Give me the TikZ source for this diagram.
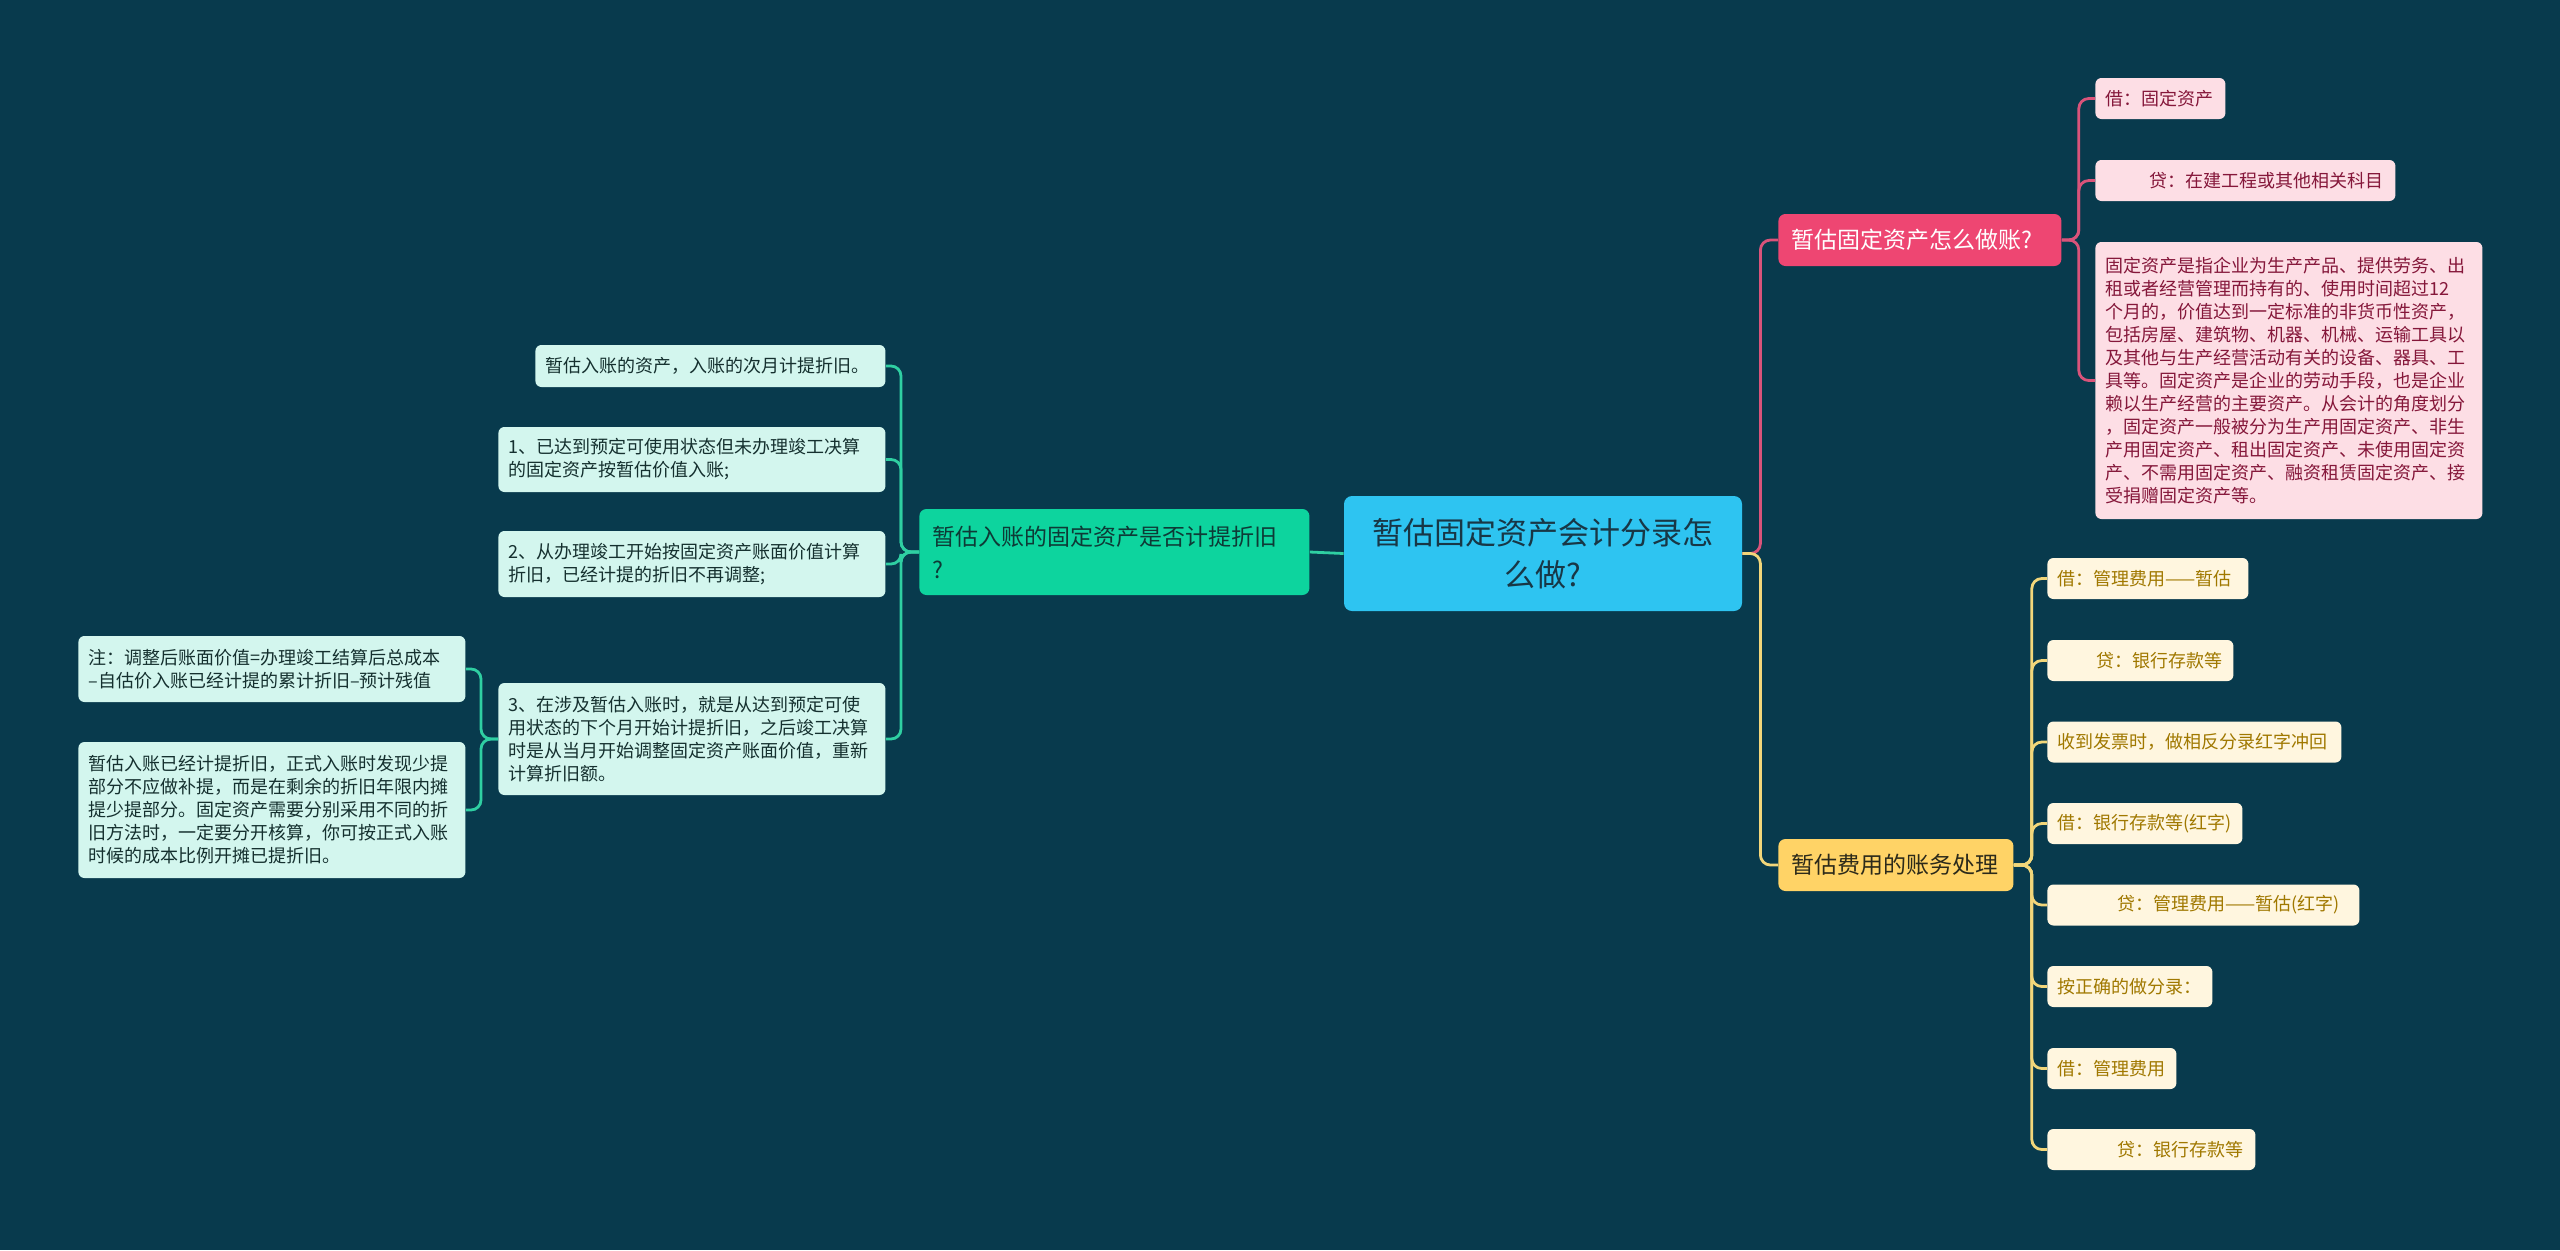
\documentclass[tikz,border=0pt]{standalone}
\usepackage{fontspec}
\newfontfamily\cjk{Noto Sans CJK SC}
\definecolor{cBg}{HTML}{083A4D}
\definecolor{cCtr}{HTML}{2EC4F1}
\definecolor{cCtrText}{HTML}{183746}
\definecolor{cGreen}{HTML}{0DD49E}
\definecolor{cGreenText}{HTML}{0E3A36}
\definecolor{cTealLine}{HTML}{2FCFA2}
\definecolor{cTealFill}{HTML}{D3F6EE}
\definecolor{cTealText}{HTML}{15302F}
\definecolor{cPink}{HTML}{EE4672}
\definecolor{cPinkLine}{HTML}{D9537A}
\definecolor{cPinkFill}{HTML}{FDDEE5}
\definecolor{cPinkText}{HTML}{85173A}
\definecolor{cYel}{HTML}{FFD366}
\definecolor{cYelText}{HTML}{2C2A1A}
\definecolor{cYelLine}{HTML}{F2D67A}
\definecolor{cYelFill}{HTML}{FFF6DF}
\definecolor{cYelChildText}{HTML}{A07800}
\begin{document}
\begin{tikzpicture}[x=0.5pt,y=-0.5pt,
  box/.style={rounded corners=3pt, anchor=west, align=left,
    font=\cjk\fontsize{9}{11.5}\selectfont, inner xsep=5pt, inner ysep=0pt, minimum height=20.5pt},
  tealbox/.style={box, fill=cTealFill, text=cTealText},
  pinkbox/.style={box, fill=cPinkFill, text=cPinkText},
  yelbox/.style={box, fill=cYelFill, text=cYelChildText},
  lvl/.style={rounded corners=3.5pt, anchor=west, align=left,
    font=\cjk\fontsize{11.5}{16.5}\selectfont, inner xsep=6.5pt, inner ysep=0pt, minimum height=26pt},
  ctrbox/.style={rounded corners=4pt, anchor=center, align=center, fill=cCtr, text=cCtrText,
    font=\cjk\fontsize{15.5}{21}\selectfont, inner sep=0pt},
  tline/.style={draw=cTealLine, line width=1.4pt, rounded corners=5pt},
  pline/.style={draw=cPinkLine, line width=1.4pt, rounded corners=5pt},
  yline/.style={draw=cYelLine, line width=1.4pt, rounded corners=5pt}
]
\fill[cBg] (0,0) rectangle (2560,1250);
\useasboundingbox (0,0) rectangle (2560,1250);

% center
\node[ctrbox, minimum width=199pt, minimum height=57.5pt] (ctr) at (1543,553.5) {暂估固定资产会计分录怎\\么做?};

% left branch
\node[lvl, fill=cGreen, text=cGreenText, text width=182pt, minimum height=43pt] (g) at (919,552) {暂估入账的固定资产是否计提折旧\\?};

\node[tealbox, text width=165pt, minimum height=21pt] (a1) at (535,366) {暂估入账的资产，入账的次月计提折旧。};
\node[tealbox, text width=183.5pt, minimum height=32.5pt] (a2) at (498,459.5) {1、已达到预定可使用状态但未办理竣工决算\\的固定资产按暂估价值入账;};
\node[tealbox, text width=183.5pt, minimum height=33pt] (a3) at (498,564) {2、从办理竣工开始按固定资产账面价值计算\\折旧，已经计提的折旧不再调整;};
\node[tealbox, text width=183.5pt, minimum height=56pt] (a4) at (498,739) {3、在涉及暂估入账时，就是从达到预定可使\\用状态的下个月开始计提折旧，之后竣工决算\\时是从当月开始调整固定资产账面价值，重新\\计算折旧额。};

\node[tealbox, text width=183.5pt, minimum height=33pt] (b1) at (78,669) {注：调整后账面价值=办理竣工结算后总成本\\–自估价入账已经计提的累计折旧–预计残值};
\node[tealbox, text width=183.5pt, minimum height=68pt] (b2) at (78,810) {暂估入账已经计提折旧，正式入账时发现少提\\部分不应做补提，而是在剩余的折旧年限内摊\\提少提部分。固定资产需要分别采用不同的折\\旧方法时，一定要分开核算，你可按正式入账\\时候的成本比例开摊已提折旧。};

% right branch: pink
\node[lvl, fill=cPink, text=white, text width=128.5pt] (c1) at (1778,240) {暂估固定资产怎么做账?};
\node[pinkbox, text width=55pt] (p1) at (2095,98.5) {借：固定资产};
\node[pinkbox, text width=140pt] (p2) at (2095,180.5) {\hspace*{22pt}贷：在建工程或其他相关科目};
\node[pinkbox, text width=183.5pt, minimum height=138.5pt] (p3) at (2095,380.5) {固定资产是指企业为生产产品、提供劳务、出\\租或者经营管理而持有的、使用时间超过12\\个月的，价值达到一定标准的非货币性资产，\\包括房屋、建筑物、机器、机械、运输工具以\\及其他与生产经营活动有关的设备、器具、工\\具等。固定资产是企业的劳动手段，也是企业\\赖以生产经营的主要资产。从会计的角度划分\\，固定资产一般被分为生产用固定资产、非生\\产用固定资产、租出固定资产、未使用固定资\\产、不需用固定资产、融资租赁固定资产、接\\受捐赠固定资产等。};

% right branch: yellow
\node[lvl, fill=cYel, text=cYelText, text width=104.5pt] (c2) at (1778,865) {暂估费用的账务处理};
\node[yelbox, text width=90.5pt] (y1) at (2047,578.5) {借：管理费用——暂估};
\node[yelbox, text width=83pt] (y2) at (2047,660.5) {\hspace*{19.5pt}贷：银行存款等};
\node[yelbox, text width=137pt] (y3) at (2047,742) {收到发票时，做相反分录红字冲回};
\node[yelbox, text width=87.5pt] (y4) at (2047,823.5) {借：银行存款等(红字)};
\node[yelbox, text width=146pt] (y5) at (2047,905) {\hspace*{30pt}贷：管理费用——暂估(红字)};
\node[yelbox, text width=72.5pt] (y6) at (2047,986.5) {按正确的做分录：};
\node[yelbox, text width=54.5pt] (y7) at (2047,1068.5) {借：管理费用};
\node[yelbox, text width=94pt] (y8) at (2047,1149.5) {\hspace*{30pt}贷：银行存款等};

% connectors
\draw[tline] (ctr.west) -- (g.east);
\foreach \n in {a1,a2,a3,a4}{\draw[tline] (g.west) -- ++(-9pt,0) |- (\n.east);}
\foreach \n in {b1,b2}{\draw[tline] (a4.west) -- ++(-8.5pt,0) |- (\n.east);}

\draw[pline] (ctr.east) -- ++(9pt,0) |- (c1.west);
\draw[yline] (ctr.east) -- ++(9pt,0) |- (c2.west);
\foreach \n in {p1,p2,p3}{\draw[pline] (c1.east) -- ++(8.5pt,0) |- (\n.west);}
\foreach \n in {y1,y2,y3,y4,y5,y6,y7,y8}{\draw[yline] (c2.east) -- ++(9pt,0) |- (\n.west);}
\end{tikzpicture}
\end{document}
